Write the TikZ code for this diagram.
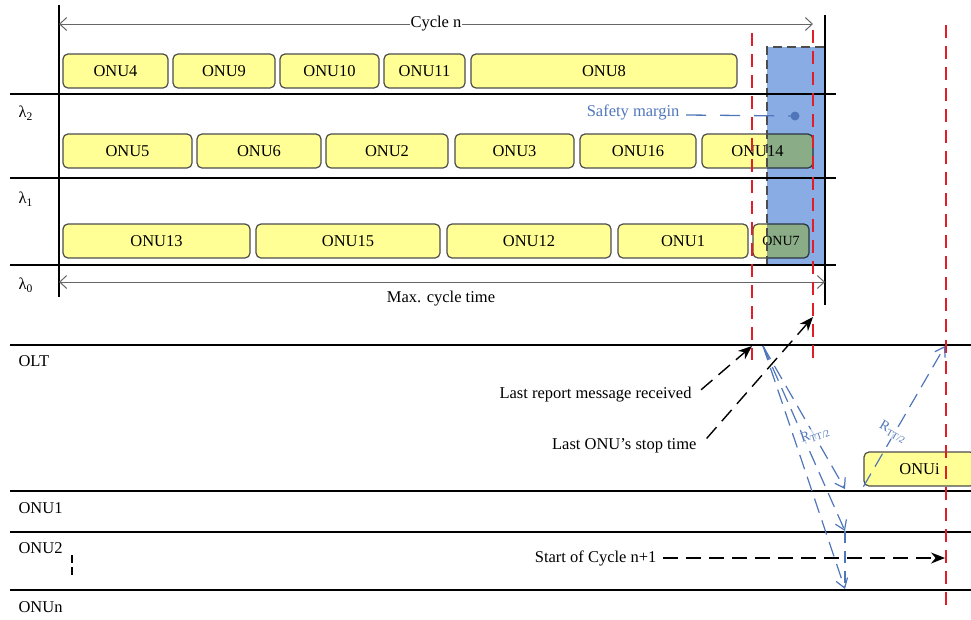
\documentclass[tikz,border=0pt]{standalone}
\usepackage{fontspec}
\setmainfont{Liberation Serif}
\usepackage{tikz}
\usetikzlibrary{arrows.meta, positioning, calc}
\definecolor{slotyellow}{RGB}{255,255,150}
\definecolor{marginblue}{RGB}{138,172,228}
\definecolor{labelblue}{RGB}{80,118,186}
\definecolor{guidered}{RGB}{225,30,40}
\tikzstyle{slot} = [rectangle, rounded corners=5pt, minimum height=34pt, inner sep=0pt, text centered, draw=black!70, fill=slotyellow, line width=1.2pt]
\tikzstyle{lane} = [line width=2pt]
\tikzstyle{guide} = [guidered, line width=1.3pt, dash pattern=on 13pt off 8pt]
\tikzstyle{cyclearrow} = [black!60, line width=1pt, {Straight Barb[length=7pt, width=13pt]}-{Straight Barb[length=7pt, width=13pt]}]
\tikzstyle{pointer} = [line width=1.4pt, dash pattern=on 15pt off 8pt, -{Stealth[length=14pt, width=11pt]}]
\tikzstyle{rtt} = [labelblue, line width=1.2pt, dash pattern=on 15pt off 8pt, -{Straight Barb[length=9pt, width=12pt]}]
\tikzstyle{rttlabel} = [text=labelblue, fill=white, fill opacity=0.7, text opacity=1, inner sep=1pt, font=\fontsize{14}{16}\selectfont]

\begin{document}
\begin{tikzpicture}[x=1pt, y=-1pt, every node/.style={font=\fontsize{16.5}{19}\selectfont}]
  \useasboundingbox (0,0) rectangle (971,619);
  \clip (0,0) rectangle (971,619);

  % wavelength schedule
  \node[slot, minimum width=105pt] (onu4) at (115.5,71) {ONU4};
  \node[slot, minimum width=102pt] (onu9) at (224,71) {ONU9};
  \node[slot, minimum width=99pt] (onu10) at (329.5,71) {ONU10};
  \node[slot, minimum width=81pt] (onu11) at (424.5,71) {ONU11};
  \node[slot, minimum width=266pt] (onu8) at (604,71) {ONU8};

  \node[slot, minimum width=129pt] (onu5) at (127.5,151) {ONU5};
  \node[slot, minimum width=124pt] (onu6) at (259,151) {ONU6};
  \node[slot, minimum width=122pt] (onu2) at (387,151) {ONU2};
  \node[slot, minimum width=119pt] (onu3) at (514.5,151) {ONU3};
  \node[slot, minimum width=116pt] (onu16) at (638,151) {ONU16};
  \node[slot, minimum width=111pt] (onu14) at (757.5,151) {ONU14};

  \node[slot, minimum width=187pt] (onu13) at (156.5,241) {ONU13};
  \node[slot, minimum width=184pt] (onu15) at (348,241) {ONU15};
  \node[slot, minimum width=164pt] (onu12) at (529,241) {ONU12};
  \node[slot, minimum width=130pt] (onu1) at (683,241) {ONU1};
  \node[slot, minimum width=56pt, font=\fontsize{14}{16}\selectfont] (onu7) at (781,241) {ONU7};

  % safety margin
  \fill[marginblue, blend mode=multiply] (767,47) rectangle (825,265);
  \draw[black!70, line width=1.3pt, dash pattern=on 9pt off 5pt] (767,265) -- (767,47) -- (825,47);

  \draw[lane] (10,94) -- (836,94);
  \draw[lane] (10,178) -- (836,178);
  \draw[lane] (10,265) -- (836,265);
  \draw[line width=1.2pt] (59,5) -- (59,297);
  \draw[line width=1.2pt] (825,15) -- (825,305);

  \node[anchor=west] (lam2) at (15,113) {λ\textsubscript{2}};
  \node[anchor=west] (lam1) at (15,199) {λ\textsubscript{1}};
  \node[anchor=west] (lam0) at (15,285) {λ\textsubscript{0}};

  \coordinate (cycstart) at (59,24);
  \coordinate (cycend) at (813,24);
  \draw[cyclearrow] (cycstart) -- node[fill=white, text=black, inner sep=1pt] (cyclelbl) {Cycle n} (cycend);
  \coordinate (maxstart) at (59,282);
  \coordinate (maxend) at (825,282);
  \draw[cyclearrow] (maxstart) -- (maxend);
  \node (maxlbl) at (441,299) {Max. cycle time};

  \node[anchor=east, text=labelblue] (safetylbl) at (683,112) {Safety margin};
  \coordinate (marginpt) at (795,116);
  \draw[labelblue, line width=1.3pt, dash pattern=on 20pt off 14pt] (safetylbl.east) ++(3,3) -- (marginpt);
  \fill[labelblue] (marginpt) circle (4.5pt);

  % OLT and ONU time lines
  \draw[lane] (10,345) -- (971,345);
  \draw[lane] (10,491) -- (971,491);
  \draw[lane] (10,532) -- (971,532);
  \draw[lane] (10,590) -- (971,590);
  \node[anchor=west] (olt) at (15,361) {OLT};
  \node[anchor=west] (lane1) at (15,508) {ONU1};
  \node[anchor=west] (lane2) at (15,548) {ONU2};
  \node[anchor=west] (lanen) at (15,607) {ONUn};
  \draw[line width=1.5pt, dash pattern=on 8pt off 4pt] (72,555) -- (72,578);

  \node[slot, minimum width=111pt] (onui) at (919.5,469) {ONUi};

  % guide lines
  \draw[guide] (752,33) -- (752,360);
  \draw[guide] (813,30) -- (813,362);
  \draw[guide] (946,25) -- (946,606);

  % report and grant messages
  \coordinate (gatept) at (763,346);
  \coordinate (rx1) at (845,489);
  \coordinate (rx2) at (845,531);
  \coordinate (rx3) at (845,589);
  \coordinate (olthit) at (945,346);
  \draw[rtt] (gatept) -- (rx1);
  \draw[rtt] (gatept) -- (rx2);
  \draw[rtt] (gatept) -- (rx3);
  \draw[labelblue, line width=1.2pt, dash pattern=on 12pt off 8pt] (rx2) -- (rx3);
  \draw[rtt] (onui.south west) -- (olthit);
  \node[rttlabel, rotate=18] (rtt1) at (815,435) {R\textsubscript{TT/2}};
  \node[rttlabel, rotate=-30] (rtt2) at (893,432) {R\textsubscript{TT/2}};

  \node[anchor=east] (reportlbl) at (695,395) {Last report message received};
  \coordinate (reportpt) at (752,346);
  \draw[pointer, shorten <=8pt] (reportlbl.east) -- (reportpt);
  \node[anchor=east] (stoplbl) at (700,446) {Last ONU’s stop time};
  \coordinate (stoppt) at (813,317);
  \draw[pointer, shorten <=10pt] (stoplbl.east) -- (stoppt);
  \node[anchor=east] (startlbl) at (660,558) {Start of Cycle n+1};
  \coordinate (nextpt) at (945,558);
  \draw[pointer, shorten <=3pt] (startlbl.east) -- (nextpt);
\end{tikzpicture}
\end{document}
